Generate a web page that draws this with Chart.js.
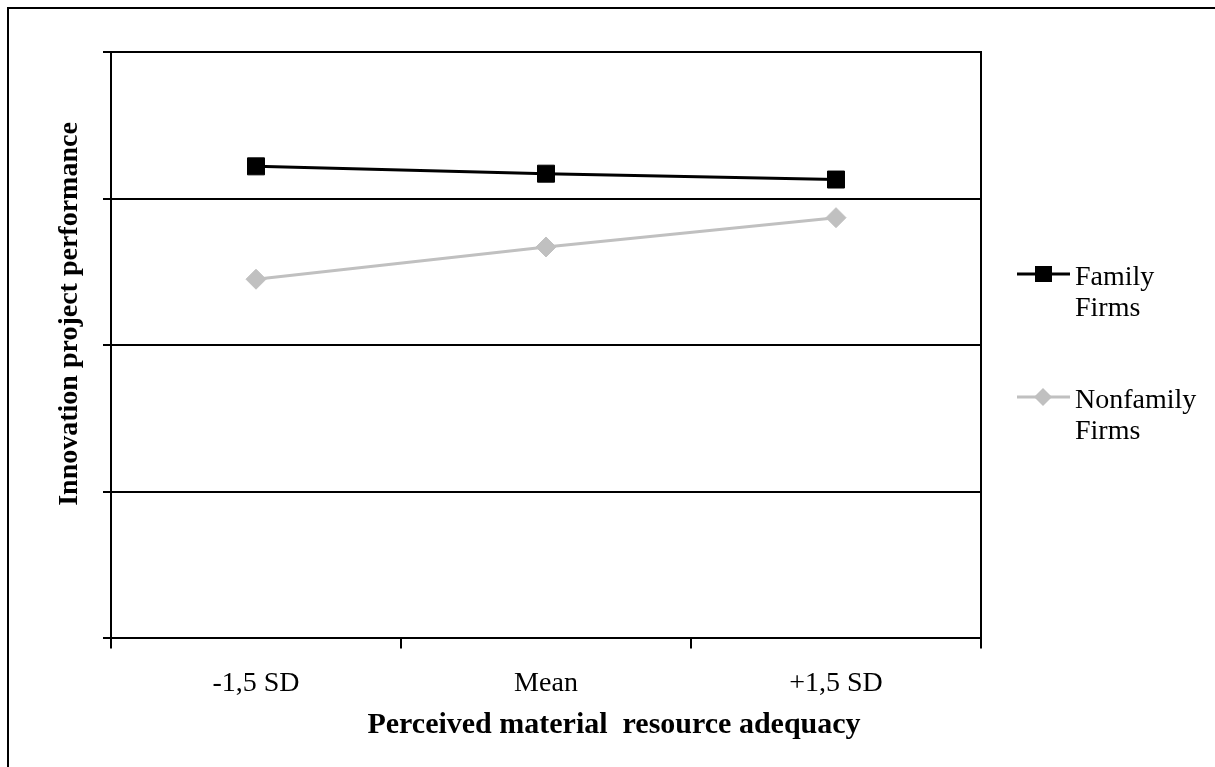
<!DOCTYPE html>
<html>
<head>
<meta charset="utf-8">
<script src="https://cdn.jsdelivr.net/npm/chart.js@4/dist/chart.umd.min.js"></script>
<style>
  body{margin:0;background:#fff;}
  #wrap{width:1215px;height:767px;position:relative;}
</style>
</head>
<body>
<div id="wrap"><canvas id="lineChart"></canvas></div>
<script>

const categories=["-1,5 SD","Mean","+1,5 SD"];
const familyValues=[4.22,4.17,4.13];
const nonfamilyValues=[3.45,3.67,3.87];
const seriesNames=[["Family","Firms"],["Nonfamily","Firms"]];
const xTitle="Perceived material  resource adequacy";
const yTitle="Innovation project performance";

const serif="'Liberation Serif','Times New Roman',serif";

// frame, axis titles and the two-line legend
const extras={
  id:"extras",
  beforeDraw(chart){
    const ctx=chart.ctx;
    ctx.save();
    ctx.strokeStyle="#000";
    ctx.lineWidth=2;
    ctx.beginPath();
    ctx.moveTo(8,767);
    ctx.lineTo(8,8);
    ctx.lineTo(1215,8);
    ctx.stroke();
    ctx.restore();
  },
  afterDraw(chart){
    const ctx=chart.ctx;
    ctx.save();
    ctx.fillStyle="#000";
    ctx.font="bold 30px "+serif;
    ctx.textAlign="center";
    ctx.textBaseline="alphabetic";
    ctx.fillText(xTitle,614,733);

    ctx.font="bold 28px "+serif;
    ctx.translate(77,314);
    ctx.rotate(-Math.PI/2);
    ctx.fillText(yTitle,0,0);
    ctx.restore();

    const rows=[274,397];
    chart.data.datasets.forEach((ds,i)=>{
      const y=rows[i];
      ctx.save();
      ctx.strokeStyle=ds.borderColor;
      ctx.lineWidth=3;
      ctx.beginPath();
      ctx.moveTo(1017,y);
      ctx.lineTo(1070,y);
      ctx.stroke();
      ctx.fillStyle=ds.backgroundColor;
      ctx.beginPath();
      if(ds.pointStyle==="rect"){
        ctx.rect(1035,y-8,17,16);
      }else{
        ctx.moveTo(1043,y-9);
        ctx.lineTo(1052,y);
        ctx.lineTo(1043,y+9);
        ctx.lineTo(1034,y);
        ctx.closePath();
      }
      ctx.fill();
      ctx.fillStyle="#000";
      ctx.font="28px "+serif;
      ctx.textAlign="left";
      ctx.textBaseline="alphabetic";
      seriesNames[i].forEach((t,j)=>{
        ctx.fillText(t,1075,y+11+j*31);
      });
      ctx.restore();
    });
  }
};

function createLineChart(){

  const canvas=document.getElementById("lineChart");

  new Chart(canvas,{
    type:"line",
    data:{
      labels:categories,
      datasets:[{
        label:"Family Firms",
        data:familyValues,
        borderColor:"#000000",
        backgroundColor:"#000000",
        borderWidth:3,
        pointStyle:"rect",
        pointRadius:12,
        pointBorderWidth:1,
        tension:0
      },{
        label:"Nonfamily Firms",
        data:nonfamilyValues,
        borderColor:"#c0c0c0",
        backgroundColor:"#c0c0c0",
        borderWidth:3,
        pointStyle:"rectRot",
        pointRadius:10,
        pointBorderWidth:1,
        tension:0
      }]
    },
    options:{
      responsive:true,
      maintainAspectRatio:false,
      animation:false,
      layout:{padding:{left:103,right:234,top:52,bottom:49}},
      plugins:{
        legend:{display:false},
        tooltip:{enabled:false}
      },
      scales:{
        x:{
          offset:true,
          grid:{offset:true,drawOnChartArea:false,drawTicks:true,tickLength:10,color:"#000",lineWidth:2},
          border:{display:true,color:"#000",width:2},
          ticks:{color:"#000",font:{family:serif,size:28},padding:18,maxRotation:0}
        },
        y:{
          min:1,
          max:5,
          ticks:{display:false,stepSize:1},
          grid:{color:"#000",lineWidth:2,drawTicks:true,tickLength:8},
          border:{display:true,color:"#000",width:2}
        },
        y2:{
          position:"right",
          display:true,
          ticks:{display:false},
          grid:{display:false,drawTicks:false},
          border:{display:true,color:"#000",width:2}
        }
      }
    },
    plugins:[extras]
  });

}

createLineChart();

</script>
</body>
</html>
